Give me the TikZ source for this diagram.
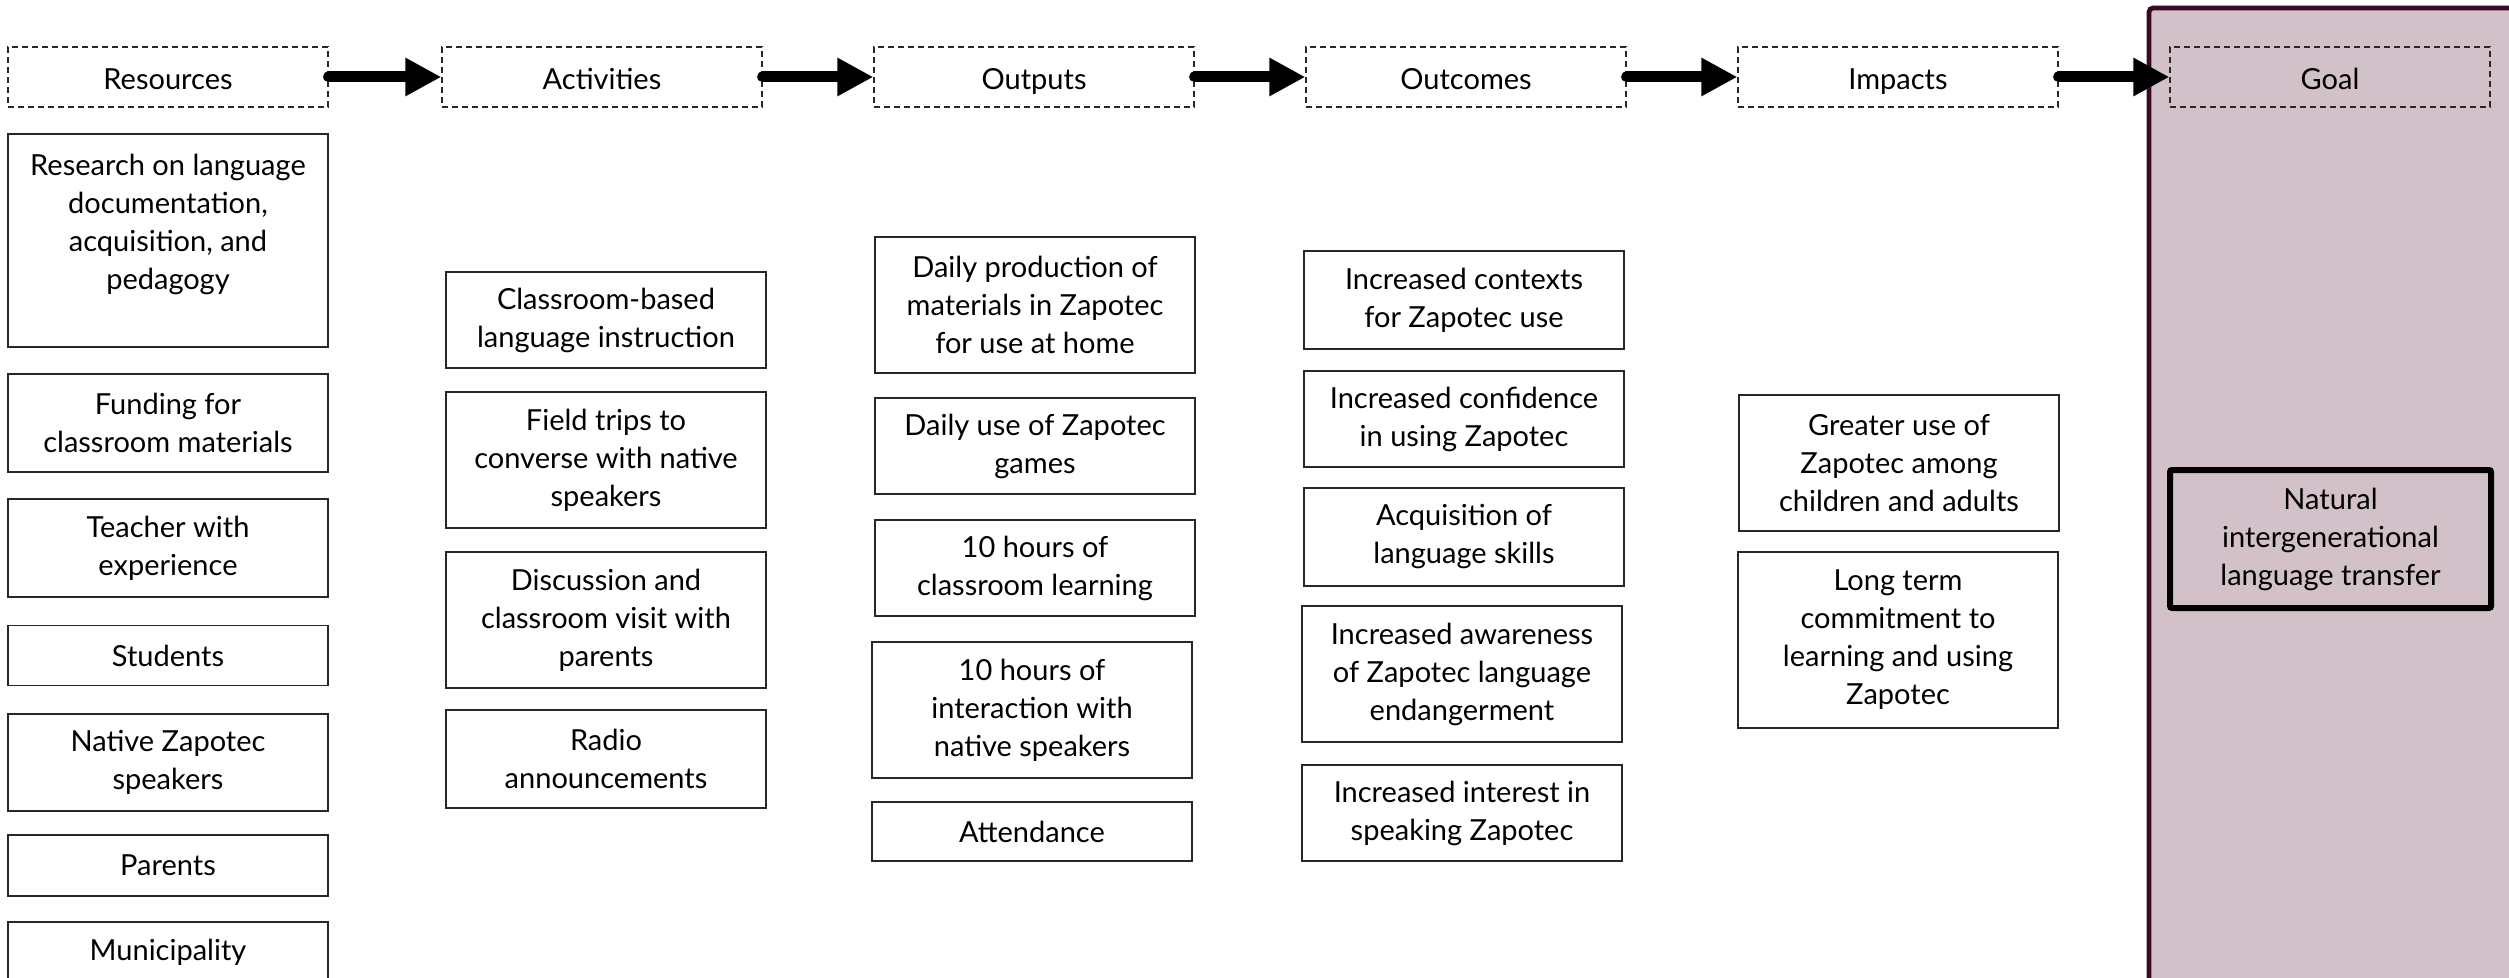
\documentclass[tikz,border=0pt]{standalone}
\usepackage{fontspec}
\setmainfont{Lato}
\usetikzlibrary{arrows.meta}

\definecolor{goalfill}{RGB}{211,193,202}
\definecolor{goaledge}{RGB}{58,10,36}
\definecolor{boxedge}{RGB}{40,40,40}

\tikzset{
  labelfont/.style={font=\fontsize{14.5pt}{19pt}\selectfont},
  itembox/.style={labelfont, draw=boxedge, line width=0.8pt, rectangle,
    inner sep=0pt, align=center, minimum width=160pt},
  hdrbox/.style={labelfont, draw=boxedge, line width=0.65pt,
    dash pattern=on 3pt off 2pt, rectangle, inner sep=0pt,
    minimum width=160pt, minimum height=30pt, text height=14pt, text depth=1pt},
  goalbox/.style={labelfont, draw=black, line width=3pt, rounded corners=1pt,
    rectangle, inner sep=0pt, align=center, minimum width=160.5pt,
    minimum height=69pt},
  flow/.style={line width=5.5pt, line cap=round,
    -{Triangle[length=18pt,width=18pt]}},
}

\begin{document}
\begin{tikzpicture}[x=0.5pt,y=-0.5pt]
\useasboundingbox (0,0) rectangle (2509,978);
\clip (0,0) rectangle (2509,978);

% goal panel
\draw[fill=goalfill, draw=goaledge, line width=2.4pt, rounded corners=2pt]
  (2149,8) rectangle (2540,1000);

% column headers
\node[hdrbox] (hres) at (168,77)  {Resources};
\node[hdrbox] (hact) at (602,77)  {Activities};
\node[hdrbox] (hout) at (1034,77) {Outputs};
\node[hdrbox] (hoc)  at (1466,77) {Outcomes};
\node[hdrbox] (himp) at (1898,77) {Impacts};
\node[hdrbox] (hgoal) at (2330,77) {Goal};

\foreach \a/\b in {hres/hact, hact/hout, hout/hoc, hoc/himp, himp/hgoal}
  \draw[flow] (\a.east) -- (\b.west);

% resources
\node[itembox, minimum height=106.5pt] (r1) at (168,240.5)
  {Research on language\\documentation,\\acquisition, and\\pedagogy\rule[-18.5pt]{0pt}{0pt}};
\node[itembox, minimum height=49pt] (r2) at (168,423) {Funding for\\classroom materials};
\node[itembox, minimum height=49pt] (r3) at (168,548) {Teacher with\\experience};
\node[itembox, minimum height=30pt] (r4) at (168,655.5) {Students};
\node[itembox, minimum height=48.5pt] (r5) at (168,762.5) {Native Zapotec\\speakers};
\node[itembox, minimum height=30.5pt] (r6) at (168,865.5) {Parents};
\node[itembox, minimum height=30.5pt] (r7) at (168,952.5) {Municipality};

% activities
\node[itembox, minimum height=48pt] (a1) at (606,320) {Classroom-based\\language instruction};
\node[itembox, minimum height=68pt] (a2) at (606,460) {Field trips to\\converse with native\\speakers};
\node[itembox, minimum height=68pt] (a3) at (606,620) {Discussion and\\classroom visit with\\parents};
\node[itembox, minimum height=49pt] (a4) at (606,759) {Radio\\announcements};

% outputs
\node[itembox, minimum height=68pt] (o1) at (1035,305) {Daily production of\\materials in Zapotec\\for use at home};
\node[itembox, minimum height=48pt] (o2) at (1035,446) {Daily use of Zapotec\\games};
\node[itembox, minimum height=48pt] (o3) at (1035,568) {10 hours of\\classroom learning};
\node[itembox, minimum height=68pt] (o4) at (1032,710) {10 hours of\\interaction with\\native speakers};
\node[itembox, minimum height=29.5pt] (o5) at (1032,831.5) {Attendance};

% outcomes
\node[itembox, minimum height=49pt] (c1) at (1464,300) {Increased contexts\\for Zapotec use};
\node[itembox, minimum height=48pt] (c2) at (1464,419) {Increased confidence\\in using Zapotec};
\node[itembox, minimum height=49pt] (c3) at (1464,537) {Acquisition of\\language skills};
\node[itembox, minimum height=68pt] (c4) at (1462,674) {Increased awareness\\of Zapotec language\\endangerment};
\node[itembox, minimum height=48pt] (c5) at (1462,813) {Increased interest in\\speaking Zapotec};

% impacts
\node[itembox, minimum height=68pt] (i1) at (1899,463) {Greater use of\\Zapotec among\\children and adults};
\node[itembox, minimum height=88pt] (i2) at (1898,640) {Long term\\commitment to\\learning and using\\Zapotec};

% goal
\node[goalbox] (g1) at (2330.5,539) {Natural\\intergenerational\\language transfer};
\end{tikzpicture}
\end{document}
